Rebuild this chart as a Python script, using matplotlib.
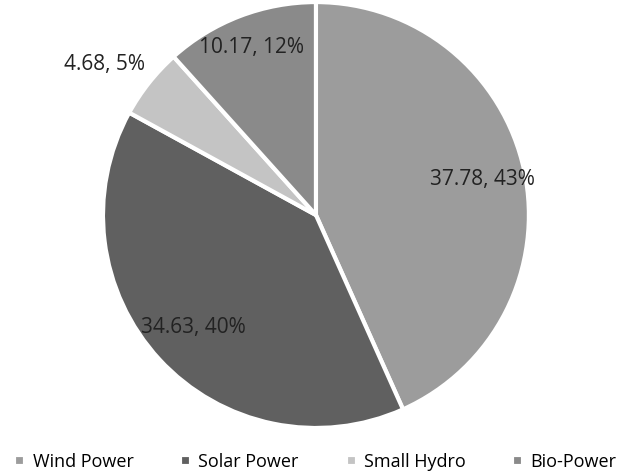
import numpy as np
import matplotlib
matplotlib.use("Agg")
import matplotlib.pyplot as plt

plt.rcParams['font.family'] = ['Open Sans', 'DejaVu Sans']

categories = ['Wind Power', 'Solar Power', 'Small Hydro', 'Bio-Power']
values = [37.78, 34.63, 4.68, 10.17]
percent_labels = ['43%', '40%', '5%', '12%']
colors = ['#9c9c9c', '#606060', '#c4c4c4', '#8a8a8a']

fig = plt.figure(figsize=(6.31, 4.73), dpi=100)
ax = fig.add_axes([0.1632, 0.0951, 0.675, 0.9006])

wedges, _ = ax.pie(values, colors=colors, startangle=90, counterclock=False,
                   wedgeprops=dict(edgecolor='white', linewidth=3))
ax.set_xlim(-1, 1)
ax.set_ylim(-1, 1)
ax.set_aspect('equal')

# label radius / angle nudge per slice: small hydro goes outside
radii = [0.8, 0.78, 1.22, 0.84]
nudge = [0, 0, 3, 0]
for w, v, p, r, d in zip(wedges, values, percent_labels, radii, nudge):
    ang = np.deg2rad((w.theta1 + w.theta2) / 2 + d)
    ax.text(r * np.cos(ang), r * np.sin(ang), f'{v:.2f}, {p}',
            ha='center', va='center', fontsize=15, color='#222222')

fig.legend(wedges, categories, loc='lower center', ncol=4, frameon=False,
           fontsize=13, handlelength=0.6, handleheight=0.6, handletextpad=0.4,
           columnspacing=2.6, bbox_to_anchor=(0.5, -0.03))

fig.savefig('out.png', dpi=100)
